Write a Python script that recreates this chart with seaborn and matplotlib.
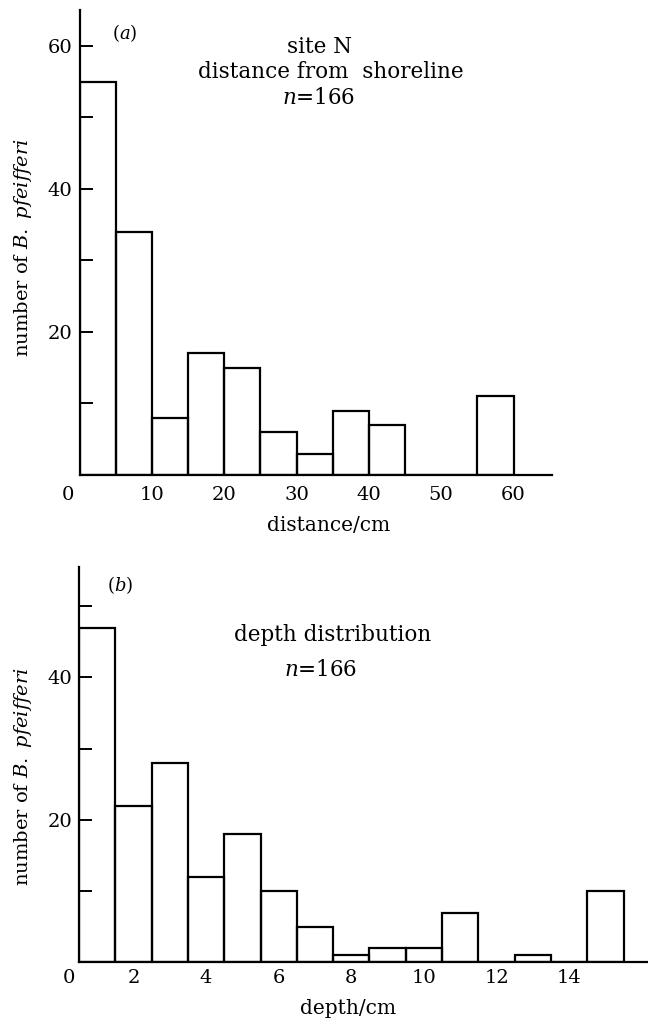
#!/usr/bin/env python3
import numpy as np
import pandas as pd
import seaborn as sns
import matplotlib.pyplot as plt

sns.set_theme(style="white")
plt.rcParams["font.family"] = ["DejaVu Serif"]
plt.rcParams["mathtext.fontset"] = "dejavuserif"
plt.rcParams["text.color"] = "black"
plt.rcParams["axes.labelcolor"] = "black"

# (a) distance from shoreline, 5 cm bins
dist_edges = [0, 5, 10, 15, 20, 25, 30, 35, 40, 45, 50, 55, 60]
dist_counts = [55, 34, 8, 17, 15, 6, 3, 9, 7, 0, 0, 11]

# (b) depth, 1 cm bins centred on whole centimetres
depth_edges = [0.5, 1.5, 2.5, 3.5, 4.5, 5.5, 6.5, 7.5, 8.5, 9.5, 10.5,
               11.5, 12.5, 13.5, 14.5, 15.5]
depth_counts = [47, 22, 28, 12, 18, 10, 5, 1, 2, 2, 7, 0, 1, 0, 10]

FS = 14      # tick labels / y label
FS_T = 15.5  # panel texts


def hist_panel(ax, edges, counts, xpad):
    e = np.asarray(edges, float)
    df = pd.DataFrame({"x": (e[:-1] + e[1:]) / 2, "n": counts})
    sns.histplot(data=df, x="x", weights="n", bins=list(edges), fill=False,
                 element="bars", color="black", linewidth=1.6, ax=ax)
    ax.set_facecolor("white")
    sns.despine(ax=ax)
    for s in ("left", "bottom"):
        ax.spines[s].set_color("black")
        ax.spines[s].set_linewidth(1.6)
    ax.tick_params(axis="y", direction="in", length=9, width=1.4,
                   colors="black", labelsize=FS, pad=5, left=True)
    ax.tick_params(axis="x", length=0, labelsize=FS, pad=xpad, colors="black")
    ax.set_ylabel("number of $B.\\ pfeifferi$", fontsize=FS)


fig = plt.figure(figsize=(6.48, 10.21), dpi=100)

# panel (a)
ax1 = fig.add_axes([0.1227, 0.5348, 0.729, 0.4554])
hist_panel(ax1, dist_edges, dist_counts, 8)
ax1.set_xlim(0, 65.3)
ax1.set_ylim(0, 65)
ax1.set_xticks([10, 20, 30, 40, 50, 60])
ax1.set_yticks([10, 20, 30, 40, 50, 60])
ax1.set_yticklabels(["", "20", "", "40", "", "60"])
ax1.set_xlabel("distance/cm", fontsize=14.5)
ax1.xaxis.set_label_coords(0.528, -0.088)
ax1.yaxis.set_label_coords(-0.096, 0.49)
ax1.annotate("0", xy=(0, 0), xycoords="data", xytext=(-8, -8),
             textcoords="offset points", ha="center", va="top", fontsize=FS)
ax1.text(0.509, 0.921, "site N", transform=ax1.transAxes,
         ha="center", va="center", fontsize=FS_T)
ax1.text(0.532, 0.866, "distance from  shoreline", transform=ax1.transAxes,
         ha="center", va="center", fontsize=FS_T)
ax1.text(0.505, 0.810, "$n$=166", transform=ax1.transAxes,
         ha="center", va="center", fontsize=FS_T)
ax1.text(0.096, 0.951, "($a$)", transform=ax1.transAxes,
         ha="center", va="center", fontsize=13)

# panel (b)
ax2 = fig.add_axes([0.1219, 0.0573, 0.878, 0.3874])
hist_panel(ax2, depth_edges, depth_counts, 5)
ax2.set_xlim(0.5, 16.17)
ax2.set_ylim(0, 55.5)
ax2.set_xticks([2, 4, 6, 8, 10, 12, 14])
ax2.set_yticks([10, 20, 30, 40, 50])
ax2.set_yticklabels(["", "20", "", "40", ""])
ax2.set_xlabel("depth/cm", fontsize=14.5)
ax2.xaxis.set_label_coords(0.473, -0.093)
ax2.yaxis.set_label_coords(-0.079, 0.469)
ax2.annotate("0", xy=(0.5, 0), xycoords="data", xytext=(-7, -5),
             textcoords="offset points", ha="center", va="top", fontsize=FS)
ax2.text(0.445, 0.828, "depth distribution", transform=ax2.transAxes,
         ha="center", va="center", fontsize=FS_T)
ax2.text(0.425, 0.740, "$n$=166", transform=ax2.transAxes,
         ha="center", va="center", fontsize=FS_T)
ax2.text(0.072, 0.953, "($b$)", transform=ax2.transAxes,
         ha="center", va="center", fontsize=13)

fig.savefig("out.png", dpi=100, facecolor="white")
